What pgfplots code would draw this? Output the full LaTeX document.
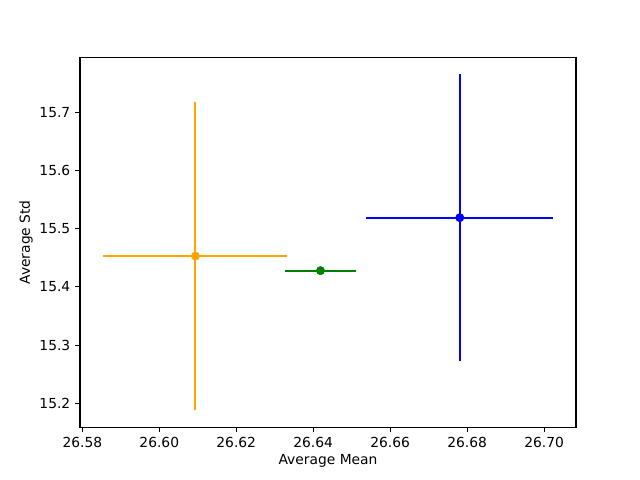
\documentclass[border=0pt]{standalone}
\usepackage{pgfplots}
\pgfplotsset{compat=1.18}
\usepackage{fontspec}
\setmainfont{DejaVu Sans}
\definecolor{mplorange}{RGB}{255,165,0}
\definecolor{mplgreen}{RGB}{0,128,0}
\definecolor{mplblue}{RGB}{0,0,255}
\begin{document}
\begin{tikzpicture}
\useasboundingbox (0,0) rectangle (6.4in,4.8in);
\begin{axis}[
  at={(0.8in,0.528in)}, anchor=south west,
  scale only axis, width=4.96in, height=3.696in,
  xmin=26.5794, xmax=26.7083, ymin=15.159, ymax=15.794,
  xtick={26.58,26.60,26.62,26.64,26.66,26.68,26.70},
  xticklabels={26.58,26.60,26.62,26.64,26.66,26.68,26.70},
  ytick={15.2,15.3,15.4,15.5,15.6,15.7},
  yticklabels={15.2,15.3,15.4,15.5,15.6,15.7},
  tick align=outside, major tick length=3.5pt,
  xtick pos=bottom, ytick pos=left,
  tick style={black, line width=0.8pt},
  axis line style={line width=0.8pt},
  tick label style={font=\fontsize{10}{12}\selectfont},
  label style={font=\fontsize{10}{12}\selectfont},
  xlabel={Average Mean}, ylabel={Average Std},
  xlabel style={yshift=2pt}, ylabel style={yshift=-2pt},
  /pgf/number format/assume math mode=true,
]
\addplot[mplorange, only marks, mark=*, mark size=3pt,
  error bars/.cd, x dir=both, x explicit, y dir=both, y explicit,
  error mark=none, error bar style={line width=1.5pt, mplorange}]
  coordinates {(26.6094,15.453) +- (0.0239,0.265)};
\addplot[mplgreen, only marks, mark=*, mark size=3pt,
  error bars/.cd, x dir=both, x explicit, y dir=both, y explicit,
  error mark=none, error bar style={line width=1.5pt, mplgreen}]
  coordinates {(26.6419,15.428) +- (0.0091,0.001)};
\addplot[mplblue, only marks, mark=*, mark size=3pt,
  error bars/.cd, x dir=both, x explicit, y dir=both, y explicit,
  error mark=none, error bar style={line width=1.5pt, mplblue}]
  coordinates {(26.6781,15.519) +- (0.0243,0.246)};
\end{axis}
\end{tikzpicture}
\end{document}
